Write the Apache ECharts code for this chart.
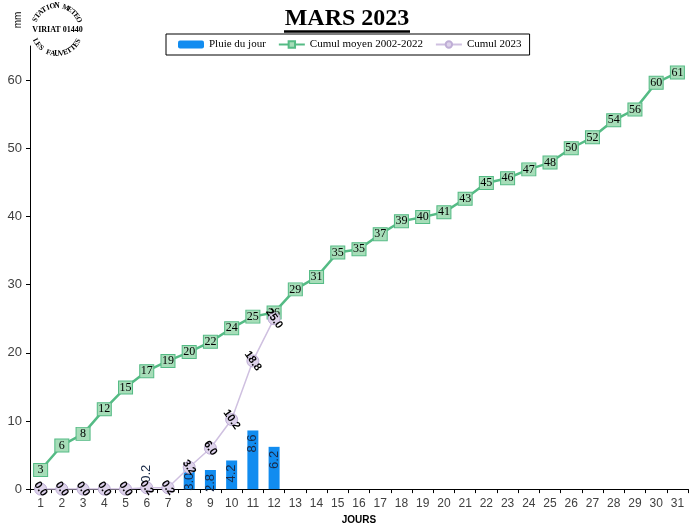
<!DOCTYPE html>
<html>
<head>
<meta charset="utf-8">
<script src="https://cdn.jsdelivr.net/npm/echarts@6/dist/echarts.min.js"></script>
<style>html,body{margin:0;padding:0;background:#fff}#c{width:700px;height:530px}</style>
</head>
<body>
<div id="c"></div>
<script>
const days = ['1','2','3','4','5','6','7','8','9','10','11','12','13','14','15','16','17','18','19','20','21','22','23','24','25','26','27','28','29','30','31'];
const pluieJour = [null,null,null,null,null,0.2,null,3.0,2.8,4.2,8.6,6.2,null,null,null,null,null,null,null,null,null,null,null,null,null,null,null,null,null,null,null];
const cumulMoyen = [2.8,6.4,8.1,11.7,14.9,17.3,18.8,20.1,21.6,23.6,25.3,25.9,29.3,31.1,34.7,35.2,37.4,39.3,39.9,40.6,42.6,44.9,45.6,46.9,47.9,50.0,51.6,54.1,55.7,59.6,61.1];
const cumul2023 = [0,0,0,0,0,0.2,0.2,3.2,6.0,10.2,18.8,25.0,null,null,null,null,null,null,null,null,null,null,null,null,null,null,null,null,null,null,null];
const yTicks = {min:0, max:65, interval:10};

const SERIF = 'Liberation Serif';
const SANS = 'Liberation Sans';

// decorative stamp logo (arched text)
function arc(text, cx, cy, r, a0, a1, top) {
  const out = [];
  const n = text.length;
  for (let i = 0; i < n; i++) {
    const a = (a0 + (a1 - a0) * (i + 0.5) / n) * Math.PI / 180;
    const x = cx + r * Math.cos(a), y = cy + r * Math.sin(a);
    const rot = top ? -(a + Math.PI / 2) : (Math.PI / 2 - a);
    out.push({type:'text', x:x, y:y, rotation:rot, silent:true,
      style:{text:text[i], font:'bold 7.5px "' + SERIF + '"', fill:'#000', align:'center', verticalAlign:'middle'}});
  }
  return out;
}
const logo = [].concat(
  arc('STATION METEO', 57, 30, 24, -160, -20, true),
  arc('LES FAUVETTES', 57, 30, 24, 158, 22, false),
  [{type:'text', x:57.5, y:30, silent:true, style:{text:'VIRIAT 01440', font:'bold 8px "' + SERIF + '"', fill:'#000', align:'center', verticalAlign:'middle'}}]
);

const chart = echarts.init(document.getElementById('c'), null, {renderer:'canvas'});
chart.setOption({
  animation:false,
  backgroundColor:'#fff',
  graphic:[
    {type:'text', x:347, y:19, style:{text:'MARS 2023', font:'bold 24px "' + SERIF + '"', fill:'#000', align:'center', verticalAlign:'middle'}},
    {type:'line', shape:{x1:284, y1:31.5, x2:410, y2:31.5}, style:{stroke:'#000', lineWidth:2.5}},
    {type:'text', x:18, y:20, rotation:Math.PI/2, style:{text:'mm', font:'10px "' + SANS + '"', fill:'#000', align:'center', verticalAlign:'middle'}},
    {type:'group', children:logo}
  ],
  legend:{
    left:166, top:34, padding:[5,8,5,12], itemGap:12, itemWidth:26, itemHeight:8,
    borderColor:'#000', borderWidth:1,
    textStyle:{fontFamily:SERIF, fontSize:11, color:'#000'},
    data:['Pluie du jour','Cumul moyen 2002-2022','Cumul 2023']
  },
  grid:{left:30, right:12, top:46, bottom:38, containLabel:false},
  xAxis:{
    type:'category', data:days, boundaryGap:true,
    name:'JOURS', nameLocation:'middle', nameGap:22,
    nameTextStyle:{fontFamily:SANS, fontSize:10, fontWeight:'bold', color:'#000'},
    axisLine:{lineStyle:{color:'#000', width:1}},
    axisTick:{show:true, length:4, lineStyle:{color:'#000'}},
    axisLabel:{fontFamily:SANS, fontSize:12, color:'#404040', margin:9}
  },
  yAxis:{
    type:'value', min:yTicks.min, max:yTicks.max, interval:yTicks.interval,
    splitLine:{show:false},
    axisLine:{show:true, lineStyle:{color:'#000', width:1}},
    axisTick:{show:true, length:4, lineStyle:{color:'#000'}},
    axisLabel:{fontFamily:SANS, fontSize:13, color:'#404040', margin:8, showMaxLabel:false}
  },
  series:[
    {
      name:'Pluie du jour', type:'bar', barWidth:11, z:2,
      itemStyle:{color:'#118cf0'},
      data:pluieJour.map((v, i) => v === null ? null : (v < 1 ? {value:v, label:{position:'top', align:'left', distance:5}} : v)),
      label:{show:true, position:'insideTop', rotate:90, align:'right', verticalAlign:'middle', distance:4,
        fontFamily:SANS, fontSize:13, color:'#1a2a48',
        formatter:p => p.value == null ? '' : Number(p.value).toFixed(1)}
    },
    {
      name:'Cumul moyen 2002-2022', type:'line', z:4,
      symbol:'rect', symbolSize:[14,13],
      lineStyle:{color:'#55bb85', width:2.5},
      itemStyle:{color:'#a6ddb8', borderColor:'#55bb85', borderWidth:1},
      label:{show:true, position:'inside', fontFamily:SERIF, fontSize:12, color:'#000',
        formatter:p => Math.round(p.value).toString()},
      data:cumulMoyen
    },
    {
      name:'Cumul 2023', type:'line', z:5,
      symbol:'circle', symbolSize:12,
      lineStyle:{color:'#cfc0e0', width:1.5},
      itemStyle:{color:'#ddd2ea', borderColor:'#bfaed6', borderWidth:1},
      label:{show:true, position:'inside', rotate:-55, fontFamily:SANS, fontSize:11, fontWeight:'bold', color:'#000',
        formatter:p => p.value == null ? '' : Number(p.value).toFixed(1)},
      data:cumul2023
    }
  ]
});
</script>
</body>
</html>
